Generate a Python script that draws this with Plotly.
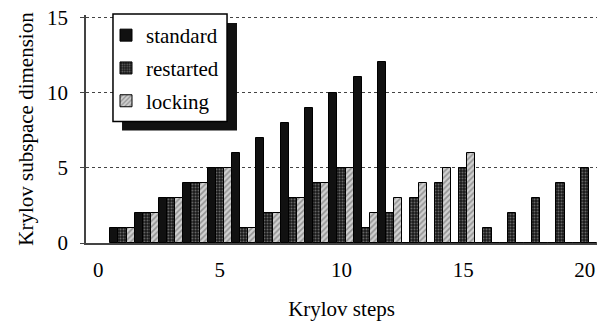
import plotly.graph_objects as go

steps = list(range(1, 21))
standard = [1, 2, 3, 4, 5, 6, 7, 8, 9, 10, 11, 12, 0, 0, 0, 0, 0, 0, 0, 0]
restarted = [1, 2, 3, 4, 5, 1, 2, 3, 4, 5, 1, 2, 3, 4, 5, 1, 2, 3, 4, 5]
locking = [1, 2, 3, 4, 5, 1, 2, 3, 4, 5, 2, 3, 4, 5, 6, 0, 0, 0, 0, 0]
series_names = ["standard", "restarted", "locking"]
x_ticks = [0, 5, 10, 15, 20]
y_ticks = [0, 5, 10, 15]

FONT = "Liberation Serif"

fig = go.Figure()
fig.add_trace(go.Bar(
    x=steps, y=standard, name=series_names[0], legendgroup="g1",
    marker=dict(color="#111111", line=dict(color="#000000", width=1)),
))
fig.add_trace(go.Bar(
    x=steps, y=restarted, name=series_names[1], legendgroup="g2",
    marker=dict(color="#222222", line=dict(color="#000000", width=1),
                pattern=dict(shape=".", bgcolor="#1a1a1a", fgcolor="#b0b0b0",
                             size=3, solidity=0.35, fillmode="overlay")),
))
fig.add_trace(go.Bar(
    x=steps, y=locking, name=series_names[2], legendgroup="g3",
    marker=dict(color="#c8c8c8", line=dict(color="#000000", width=1),
                pattern=dict(shape="/", bgcolor="#d0d0d0", fgcolor="#555555",
                             size=4, solidity=0.4, fillmode="overlay")),
))

# legend shadow and box
fig.add_shape(type="rect", xref="paper", yref="paper",
              x0=0.0705, x1=0.2955, y0=0.4934, y1=0.965,
              fillcolor="#111111", line=dict(width=0), layer="above")
fig.add_shape(type="rect", xref="paper", yref="paper",
              x0=0.0528, x1=0.276, y0=0.533, y1=1.004,
              fillcolor="white", line=dict(color="black", width=1.5), layer="above")

fig.update_layout(
    width=603, height=325,
    margin=dict(l=86, r=6, t=12, b=82),
    paper_bgcolor="white", plot_bgcolor="white",
    font=dict(family=FONT, size=21, color="black"),
    barmode="group", bargap=0, bargroupgap=0,
    showlegend=True,
    legend=dict(x=(106 - 86) / 511, y=1.0, xanchor="left", yanchor="top",
                bgcolor="rgba(0,0,0,0)", borderwidth=0, tracegroupgap=2.5,
                traceorder="grouped",
                font=dict(family=FONT, size=21, color="black")),
    xaxis=dict(range=[-0.5, 20.5], tickvals=x_ticks, showgrid=False,
               showline=True, linecolor="#444444", linewidth=2,
               ticks="", ticklabelstandoff=7, zeroline=False,
               title=dict(text="Krylov steps", standoff=20,
                          font=dict(family=FONT, size=21))),
    yaxis=dict(range=[0, 15.15], tickvals=y_ticks, showgrid=True,
               gridcolor="#444444", griddash="dot", gridwidth=1,
               showline=True, linecolor="#444444", linewidth=1.5,
               ticks="outside", ticklen=4, tickcolor="#444444",
               ticklabelstandoff=8, zeroline=False,
               title=dict(text="Krylov subspace dimension", standoff=8,
                          font=dict(family=FONT, size=21))),
)

fig.write_html("out.html", config={"displayModeBar": False},
               post_script="document.body.style.margin='0px';document.body.style.overflow='hidden';")
